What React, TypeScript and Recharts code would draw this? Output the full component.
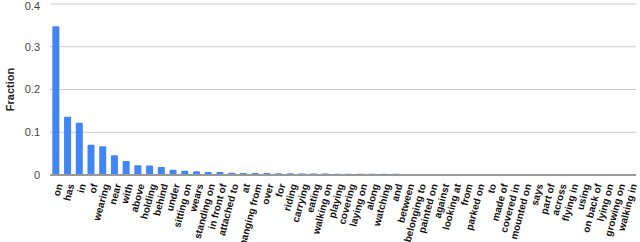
import React from "react";
import { BarChart, Bar, XAxis, YAxis, CartesianGrid } from "recharts";

const CATEGORIES = [
    "on", "has", "in", "of", "wearing", "near", "with", "above", "holding", "behind",
    "under", "sitting on", "wears", "standing on", "in front of", "attached to", "at", "hanging from", "over", "for",
    "riding", "carrying", "eating", "walking on", "playing", "covering", "laying on", "along", "watching", "and",
    "between", "belonging to", "painted on", "against", "looking at", "from", "parked on", "to", "made of", "covered in",
    "mounted on", "says", "part of", "across", "flying in", "using", "on back of", "lying on", "growing on", "walking in",
];

const FRACTIONS = [
    0.348, 0.136, 0.122, 0.071, 0.067, 0.046, 0.033, 0.023, 0.022, 0.019,
    0.012, 0.010, 0.0085, 0.007, 0.0068, 0.0055, 0.0048, 0.0046, 0.0044, 0.0042,
    0.004, 0.0038, 0.0036, 0.0034, 0.0032, 0.0031, 0.003, 0.0029, 0.0028, 0.0027,
    0.0026, 0.0025, 0.0024, 0.0023, 0.0022, 0.0012, 0.0011, 0.0011, 0.001, 0.001,
    0.0009, 0.0009, 0.0008, 0.0008, 0.0008, 0.0007, 0.0007, 0.0007, 0.0006, 0.0006,
];

const Y_TICKS = [0, 0.1, 0.2, 0.3, 0.4];

const data = CATEGORIES.map((name, i) => ({ name, value: FRACTIONS[i] }));

const FONT = "'Liberation Sans', Arial, sans-serif";

export default function App() {
    return (
        <div style={{ position: "absolute", left: 0, top: 0, width: 640, height: 242, background: "#fff", fontFamily: FONT }}>
            <BarChart
                width={640}
                height={242}
                data={data}
                margin={{ top: 4, right: 4, bottom: 0, left: 0 }}
                barCategoryGap="20%"
            >
                <CartesianGrid vertical={false} stroke="#cccccc" strokeWidth={1} />
                <XAxis
                    dataKey="name"
                    interval={0}
                    angle={-75}
                    textAnchor="end"
                    height={67}
                    tickLine={false}
                    axisLine={{ stroke: "#999999", strokeWidth: 2 }}
                    tick={{ fontSize: 10, fontWeight: "bold", fill: "#111111", fontFamily: FONT }}
                    tickMargin={2}
                />
                <YAxis
                    domain={[0, 0.4]}
                    ticks={Y_TICKS}
                    width={50}
                    axisLine={false}
                    tickLine={false}
                    tickMargin={4}
                    tick={{ fontSize: 11, fill: "#444444", fontFamily: FONT }}
                    label={{
                        value: "Fraction",
                        angle: -90,
                        position: "insideLeft",
                        offset: 10,
                        style: { fontSize: 11, fontWeight: "bold", fill: "#222222", fontFamily: FONT, textAnchor: "middle" },
                    }}
                />
                <Bar dataKey="value" fill="#4285f4" radius={[1, 1, 0, 0]} isAnimationActive={false} />
            </BarChart>
        </div>
    );
}
